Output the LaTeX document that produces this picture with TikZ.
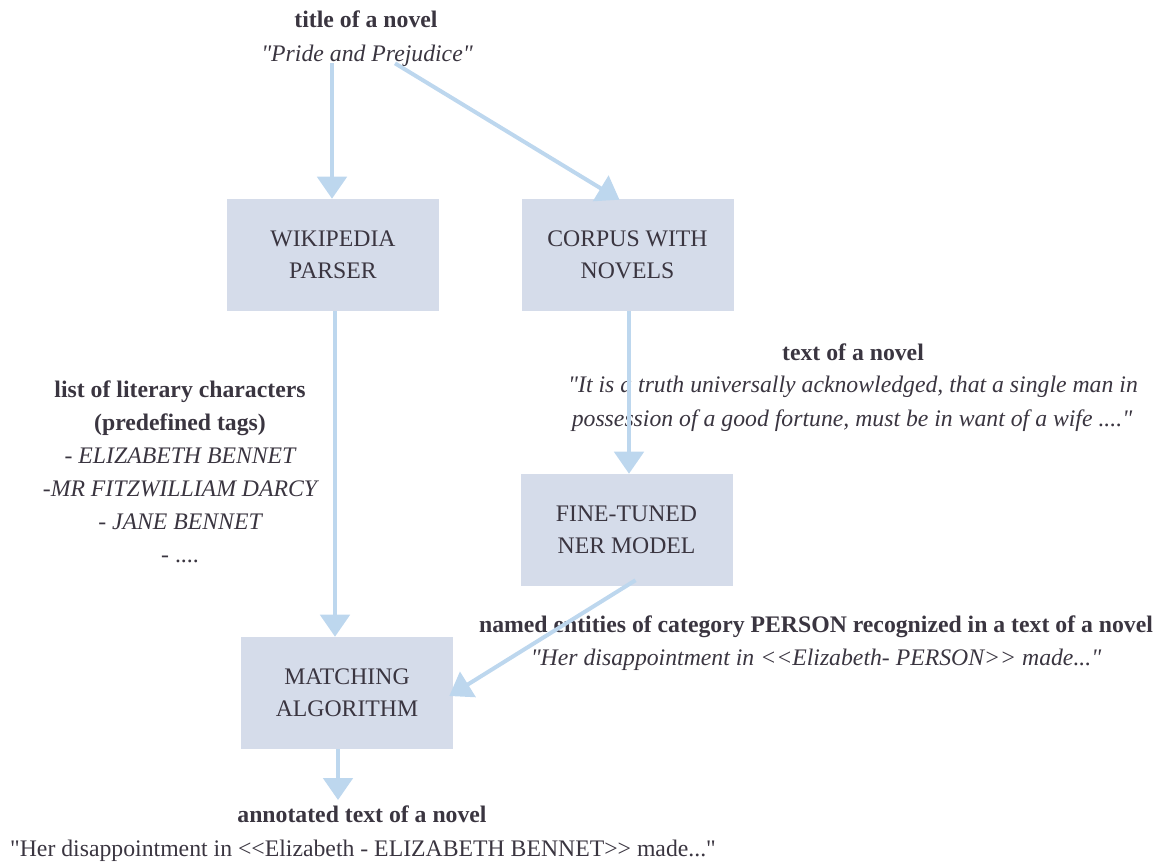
\documentclass[tikz,border=0pt]{standalone}
\usepackage{fontspec}
\setmainfont{Liberation Serif}[Ligatures=TeXOff]
\usetikzlibrary{arrows.meta,calc}
\definecolor{boxfill}{RGB}{213,220,234}
\definecolor{arrowblue}{RGB}{189,215,238}
\definecolor{ink}{RGB}{58,53,64}
\tikzset{
  stage/.style={fill=boxfill, minimum width=159pt, minimum height=84pt,
    inner sep=0pt, align=center, text=ink,
    font=\fontsize{17.8}{24}\selectfont},
  lbl/.style={anchor=base, inner sep=0pt, text=ink,
    font=\fontsize{17.8}{24}\selectfont},
  head/.style={lbl, font=\fontsize{17.8}{24}\selectfont\bfseries},
  quote/.style={lbl, font=\fontsize{17.8}{24}\selectfont\itshape},
  flow/.style={draw=arrowblue, line width=3pt,
    -{Triangle[length=16.5pt,width=22pt]}}
}
\begin{document}
\begin{tikzpicture}[x=0.75pt,y=-0.75pt]
\useasboundingbox (0,0) rectangle (1160,863);

% processing stages
\node[stage] (wiki)   at (333,255)   {WIKIPEDIA\\PARSER};
\node[stage] (corpus) at (627.5,255) {CORPUS WITH\\NOVELS};
\node[stage] (ner)    at (626.5,530) {FINE-TUNED\\NER MODEL};
\node[stage] (match)  at (347,693)   {MATCHING\\ALGORITHM};

% input
\node[head]  (title)    at (366,28) {title of a novel};
\node[quote] (titlesub) at (367,62) {"Pride and Prejudice"};

% list of characters
\node[head]  (list1) at (180,397) {list of literary characters};
\node[head]  (list2) at (180,430) {(predefined tags)};
\node[quote] (list3) at (180,463) {- ELIZABETH BENNET};
\node[quote] (list4) at (180,496) {-MR FITZWILLIAM DARCY};
\node[quote] (list5) at (180,529) {- JANE BENNET};
\node[lbl]   (list6) at (180,562) {- ....};

% text of the novel
\node[head]  (txt1) at (853,360) {text of a novel};
\node[quote] (txt2) at (853,392) {"It is a truth universally acknowledged, that a single man in};
\node[quote] (txt3) at (852,426) {possession of a good fortune, must be in want of a wife ...."};

% recognized entities
\node[head]  (ent1) at (816,632) {named entities of category PERSON recognized in a text of a novel};
\node[quote] (ent2) at (816,665) {"Her disappointment in <<Elizabeth- PERSON>> made..."};

% output
\node[head] (out1) at (362,822) {annotated text of a novel};
\node[lbl]  (out2) at (363,856) {"Her disappointment in <<Elizabeth - ELIZABETH BENNET>> made..."};

% connectors
\draw[flow] ($(titlesub.south -| wiki.north)+(-1,-4)$) -- ($(wiki.north)+(-1,0)$);
\draw[flow] ($(titlesub.south)+(28,-4)$) -- ($(corpus.north)+(-8,1)$);
\draw[flow] ($(corpus.south)+(1.5,0)$) -- ($(ner.north)+(2.5,0)$);
\draw[flow] ($(wiki.south)+(2,0)$) -- ($(wiki.south |- match.north)+(2,0)$);
\draw[flow] ($(ner.south)+(9,-6)$) -- ($(match.east)+(-4,3)$);
\draw[flow] ($(match.south)+(-9,0)$) -- ($(match.south |- out1.north)+(-9,-5)$);
\end{tikzpicture}
\end{document}
